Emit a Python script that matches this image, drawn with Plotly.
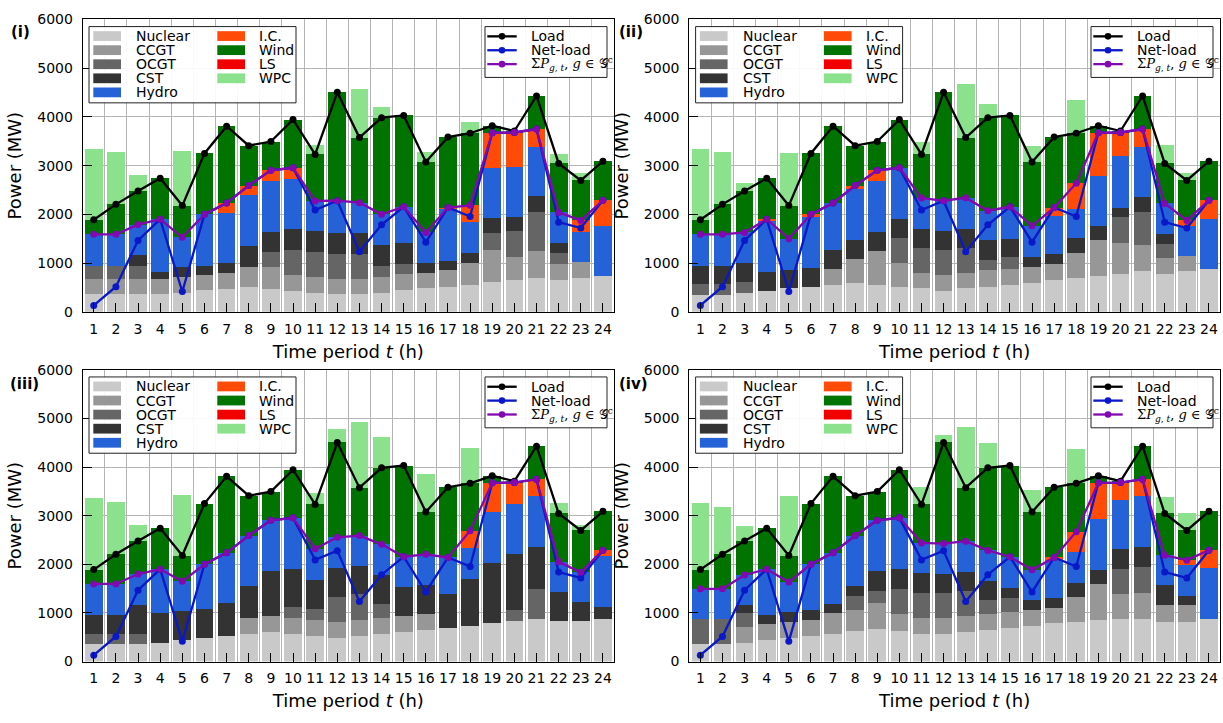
import plotly.graph_objects as go

FONT = "DejaVu Sans"
W, H = 1223, 723

hours = list(range(1, 25))
x_tick_labels = [str(h) for h in hours]
y_tick_values = [0, 1000, 2000, 3000, 4000, 5000, 6000]

# System demand and demand net of available wind (MW), identical in all cases
load = [1890, 2205, 2480, 2740, 2180, 3250, 3810, 3410, 3495, 3945, 3230, 4505,
        3575, 3985, 4030, 3075, 3585, 3665, 3820, 3710, 4430, 3045, 2695, 3090]
net_load = [130, 515, 1465, 1900, 415, 2000, 2235, 2590, 2905, 2955, 2090, 2280,
            1235, 1785, 2155, 1430, 2140, 1955, 3675, 3680, 3750, 1840, 1720, 2290]
load_shed = [0] * 24

# ---- case (i) ----
nuclear_i = [360, 360, 360, 360, 380, 440, 470, 515, 470, 435, 380, 360,
             360, 395, 440, 480, 515, 560, 615, 650, 700, 650, 695, 730]
ccgt_i = [320, 320, 320, 320, 340, 310, 330, 415, 460, 315, 330, 320,
          320, 320, 330, 320, 335, 440, 650, 465, 550, 335, 320, 0]
ocgt_i = [270, 270, 270, 0, 0, 0, 0, 0, 290, 520, 510, 505,
          505, 235, 215, 0, 0, 0, 355, 535, 805, 220, 0, 0]
cst_i = [0, 0, 210, 140, 200, 200, 200, 420, 420, 430, 430, 435,
         435, 415, 435, 200, 200, 205, 300, 305, 315, 200, 0, 0]
hydro_i = [640, 640, 630, 1080, 610, 1050, 1030, 1040, 1040, 1020, 625, 660,
           620, 635, 735, 630, 1055, 630, 1035, 1015, 1020, 635, 625, 1035]
ic_i = [0, 0, 0, 0, 0, 0, 205, 200, 225, 235, 0, 0,
        0, 0, 0, 0, 35, 350, 720, 710, 360, 0, 235, 525]
wind_i = [300, 615, 690, 840, 650, 1250, 1575, 820, 590, 990, 955, 2225,
          1335, 1985, 1875, 1445, 1445, 1480, 145, 30, 680, 1005, 820, 800]
wpc_i = [1460, 1075, 325, 0, 1115, 0, 0, 0, 0, 0, 185, 0,
         1005, 215, 0, 200, 0, 230, 0, 0, 0, 200, 155, 0]
conv_i = [1590, 1590, 1790, 1900, 1530, 2000, 2235, 2590, 2905, 2955, 2275, 2280,
          2240, 2000, 2155, 1630, 2140, 2185, 3675, 3680, 3750, 2040, 1875, 2290]

# ---- case (ii) ----
nuclear_ii = [350, 350, 395, 435, 480, 515, 560, 600, 560, 515, 480, 435,
              480, 515, 560, 600, 650, 695, 735, 785, 830, 785, 830, 885]
ccgt_ii = [0, 0, 0, 0, 0, 0, 325, 485, 690, 485, 325, 330,
           325, 335, 325, 315, 335, 510, 730, 635, 535, 320, 320, 0]
ocgt_ii = [230, 230, 220, 0, 0, 0, 0, 0, 0, 520, 515, 505,
           515, 220, 230, 0, 0, 0, 0, 520, 690, 295, 0, 0]
cst_ii = [370, 370, 385, 380, 385, 390, 385, 385, 390, 380, 385, 380,
          385, 395, 385, 220, 200, 300, 300, 200, 300, 205, 0, 0]
hydro_ii = [640, 640, 630, 1060, 635, 1050, 965, 1050, 1035, 1055, 630, 630,
            635, 610, 655, 630, 780, 615, 1025, 1050, 1035, 620, 615, 1015]
ic_ii = [0, 0, 0, 25, 0, 45, 0, 70, 230, 0, 0, 0,
         0, 0, 0, 0, 175, 520, 885, 490, 360, 0, 110, 390]
wind_ii = [300, 615, 850, 840, 680, 1250, 1575, 820, 590, 990, 895, 2225,
           1235, 1910, 1875, 1310, 1445, 1025, 145, 30, 680, 820, 820, 800]
wpc_ii = [1460, 1075, 165, 0, 1085, 0, 0, 0, 0, 0, 245, 0,
          1105, 290, 0, 335, 0, 685, 0, 0, 0, 385, 155, 0]
conv_ii = [1590, 1590, 1630, 1900, 1500, 2000, 2235, 2590, 2905, 2955, 2335, 2280,
           2340, 2075, 2155, 1765, 2140, 2640, 3675, 3680, 3750, 2225, 1875, 2290]

# ---- case (iii) ----
nuclear_iii = [350, 350, 350, 390, 435, 485, 525, 570, 605, 570, 525, 485,
               520, 560, 605, 650, 695, 740, 785, 825, 875, 825, 825, 875]
ccgt_iii = [0, 0, 0, 0, 0, 0, 0, 320, 325, 325, 330, 320,
            340, 335, 325, 325, 0, 0, 0, 0, 0, 0, 0, 0]
ocgt_iii = [220, 220, 220, 0, 0, 0, 0, 0, 0, 225, 220, 525,
            520, 280, 0, 0, 0, 0, 0, 230, 620, 0, 0, 0]
cst_iii = [390, 390, 590, 600, 595, 590, 670, 655, 935, 785, 595, 600,
           590, 605, 595, 590, 685, 960, 1245, 1150, 870, 600, 400, 255]
hydro_iii = [635, 635, 640, 910, 620, 925, 1040, 1045, 1040, 1050, 650, 625,
             620, 630, 630, 640, 760, 635, 1050, 1035, 1045, 625, 610, 1040]
ic_iii = [0, 0, 0, 0, 0, 0, 0, 0, 0, 0, 0, 0,
          0, 0, 0, 0, 0, 355, 595, 440, 340, 0, 0, 120]
wind_iii = [295, 610, 680, 840, 530, 1250, 1575, 820, 590, 990, 910, 1950,
            985, 1575, 1875, 870, 1445, 975, 145, 30, 680, 995, 860, 800]
wpc_iii = [1465, 1080, 335, 0, 1235, 0, 0, 0, 0, 0, 230, 275,
           1355, 625, 0, 775, 0, 735, 0, 0, 0, 210, 115, 0]
conv_iii = [1595, 1595, 1800, 1900, 1650, 2000, 2235, 2590, 2905, 2955, 2320, 2555,
            2590, 2410, 2155, 2205, 2140, 2690, 3675, 3680, 3750, 2050, 1835, 2290]

# ---- case (iv) ----
nuclear_iv = [350, 350, 390, 435, 485, 525, 570, 620, 660, 620, 570, 570,
              605, 650, 695, 740, 785, 820, 860, 875, 875, 820, 820, 875]
ccgt_iv = [0, 0, 330, 340, 320, 335, 420, 435, 550, 355, 325, 325,
           325, 325, 315, 325, 325, 510, 735, 505, 535, 335, 335, 0]
ocgt_iv = [525, 525, 270, 0, 0, 0, 0, 290, 235, 520, 515, 515,
           515, 285, 295, 0, 0, 0, 0, 515, 540, 0, 0, 0]
cst_iv = [0, 0, 165, 185, 205, 195, 200, 215, 420, 410, 405, 390,
          390, 390, 210, 200, 200, 295, 290, 410, 415, 410, 200, 0]
hydro_iv = [620, 620, 625, 940, 625, 945, 1045, 1030, 1040, 1050, 625, 625,
            640, 635, 640, 620, 795, 630, 1040, 1010, 1045, 620, 630, 1040]
ic_iv = [0, 0, 0, 0, 0, 0, 0, 0, 0, 0, 0, 0,
         0, 0, 0, 0, 35, 415, 750, 365, 340, 0, 100, 375]
wind_iv = [395, 710, 700, 840, 545, 1250, 1575, 820, 590, 990, 790, 2080,
           1100, 1700, 1875, 1190, 1445, 995, 145, 30, 680, 860, 610, 800]
wpc_iv = [1365, 980, 315, 0, 1220, 0, 0, 0, 0, 0, 350, 145,
          1240, 500, 0, 455, 0, 715, 0, 0, 0, 345, 365, 0]
conv_iv = [1495, 1495, 1780, 1900, 1635, 2000, 2235, 2590, 2905, 2955, 2440, 2425,
           2475, 2285, 2155, 1885, 2140, 2670, 3675, 3680, 3750, 2185, 2085, 2290]

# Stack order (bottom to top) and colours
source_names = ["Nuclear", "CCGT", "OCGT", "CST", "Hydro", "I.C.", "Wind", "LS", "WPC"]
source_colors = ["#c9c9c9", "#979797", "#656565", "#333333", "#2562d8",
                 "#ff4a08", "#007300", "#f20000", "#8ce28c"]
line_names = ["Load", "Net-load",
              "Σ<i>P</i><sub><i>g</i>, <i>t</i></sub>, <i>g</i> ∈ 𝒢<sup>c</sup>"]
line_colors = ["#000000", "#0a18c8", "#8208b0"]

cases = [
    ("(i)", [nuclear_i, ccgt_i, ocgt_i, cst_i, hydro_i, ic_i, wind_i, load_shed, wpc_i], conv_i),
    ("(ii)", [nuclear_ii, ccgt_ii, ocgt_ii, cst_ii, hydro_ii, ic_ii, wind_ii, load_shed, wpc_ii], conv_ii),
    ("(iii)", [nuclear_iii, ccgt_iii, ocgt_iii, cst_iii, hydro_iii, ic_iii, wind_iii, load_shed, wpc_iii], conv_iii),
    ("(iv)", [nuclear_iv, ccgt_iv, ocgt_iv, cst_iv, hydro_iv, ic_iv, wind_iv, load_shed, wpc_iv], conv_iv),
]

# Panel frames in pixels: left, right, top, bottom
frames = [(82.7, 614.0, 11.7, 310.7), (689.3, 1220.0, 11.7, 310.7),
          (82.7, 614.0, 370.0, 668.3), (689.3, 1220.0, 370.0, 668.3)]
label_pos = [(9, 25), (617, 25), (8, 384), (617, 384)]

fig = go.Figure()
layout = dict(
    width=W, height=H, margin=dict(l=0, r=0, t=0, b=0),
    paper_bgcolor="white", plot_bgcolor="white",
    barmode="stack", showlegend=False,
    font=dict(family=FONT, size=14, color="black"),
)
shapes, annotations = [], []

for k, (label, stacks, conv) in enumerate(cases):
    xa = "x" if k == 0 else f"x{k + 1}"
    ya = "y" if k == 0 else f"y{k + 1}"
    left, right, top, bottom = frames[k]
    pw, ph = right - left, bottom - top

    for name, color, vals in zip(source_names, source_colors, stacks):
        fig.add_trace(go.Bar(x=hours, y=vals, name=name, marker_color=color,
                             marker_line_width=0, width=0.8, xaxis=xa, yaxis=ya))
    for name, color, vals in zip(line_names, line_colors, [load, net_load, conv]):
        fig.add_trace(go.Scatter(x=hours, y=vals, name=name, mode="lines+markers",
                                 line=dict(color=color, width=2.3),
                                 marker=dict(color=color, size=7),
                                 xaxis=xa, yaxis=ya))

    xkey = "xaxis" if k == 0 else f"xaxis{k + 1}"
    ykey = "yaxis" if k == 0 else f"yaxis{k + 1}"
    layout[xkey] = dict(
        domain=[left / W, right / W], anchor=ya, range=[0.5, 24.5],
        tickmode="array", tickvals=hours, ticktext=x_tick_labels,
        ticks="inside", ticklen=9, tickwidth=1, tickcolor="black",
        ticklabelstandoff=4,
        showline=True, linecolor="black", linewidth=1, mirror=True,
        showgrid=False, zeroline=False, layer="above traces",
        minor=dict(tickmode="array", tickvals=[h + 0.5 for h in hours[:-1]],
                   showgrid=True, gridcolor="#b4b4b4", gridwidth=1, ticks=""),
        tickfont=dict(family=FONT, size=14, color="black"),
        title=dict(text="Time period <i>t</i> (h)", standoff=9,
                   font=dict(family=FONT, size=18, color="black")),
    )
    layout[ykey] = dict(
        domain=[1 - bottom / H, 1 - top / H], anchor=xa, range=[0, 6000],
        tickmode="array", tickvals=y_tick_values,
        ticks="inside", ticklen=9, tickwidth=1, tickcolor="black",
        ticklabelstandoff=6,
        showline=True, linecolor="black", linewidth=1, mirror=True,
        showgrid=True, gridcolor="#b4b4b4", gridwidth=1, zeroline=False,
        layer="above traces",
        tickfont=dict(family=FONT, size=14, color="black"),
        title=dict(text="Power (MW)", standoff=10,
                   font=dict(family=FONT, size=18, color="black")),
    )

    xd, yd = f"{xa} domain", f"{ya} domain"

    def fx(px):
        return px / pw

    def fy(px):
        return 1 - px / ph

    # Generation-mix key (two columns)
    shapes.append(dict(type="rect", xref=xd, yref=yd, x0=fx(6.3), x1=fx(213.3),
                       y0=fy(85.3), y1=fy(7.3), line=dict(color="#222222", width=1),
                       fillcolor="rgba(255,255,255,0.92)", layer="above"))
    for i, (name, color) in enumerate(zip(source_names, source_colors)):
        col, row = (0, i) if i < 5 else (1, i - 5)
        sx = 10.6 if col == 0 else 134.6
        tx = 51.3 if col == 0 else 174.6
        cy = 17.0 + 14.4 * row
        shapes.append(dict(type="rect", xref=xd, yref=yd, x0=fx(sx), x1=fx(sx + 27.7),
                           y0=fy(cy + 5), y1=fy(cy - 5), line=dict(width=0),
                           fillcolor=color, layer="above"))
        annotations.append(dict(xref=xd, yref=yd, x=fx(tx), y=fy(cy), text=name,
                                showarrow=False, xanchor="left", yanchor="middle",
                                font=dict(family=FONT, size=14, color="black")))

    # Line key (top right)
    shapes.append(dict(type="rect", xref=xd, yref=yd, x0=fx(pw - 129), x1=fx(pw - 7),
                       y0=fy(59.3), y1=fy(7.3), line=dict(color="#222222", width=1),
                       fillcolor="rgba(255,255,255,0.92)", layer="above"))
    for i, (name, color) in enumerate(zip(line_names, line_colors)):
        cy = 17.3 + 14.2 * i
        shapes.append(dict(type="line", xref=xd, yref=yd, x0=fx(pw - 126.7), x1=fx(pw - 97.3),
                           y0=fy(cy), y1=fy(cy), line=dict(color=color, width=2.3),
                           layer="above"))
        shapes.append(dict(type="circle", xref=xd, yref=yd, xsizemode="pixel",
                           ysizemode="pixel", xanchor=fx(pw - 112), yanchor=fy(cy),
                           x0=-3.3, x1=3.3, y0=-3.3, y1=3.3, line=dict(width=0),
                           fillcolor=color, layer="above"))
        is_math = i == 2
        annotations.append(dict(xref=xd, yref=yd, x=fx(pw - 84.7), y=fy(cy), text=name,
                                showarrow=False, xanchor="left", yanchor="middle",
                                font=dict(family="DejaVu Serif" if is_math else FONT,
                                          size=13 if is_math else 14, color="black")))

    # Case label
    lx, ly = label_pos[k]
    annotations.append(dict(xref="paper", yref="paper", x=lx / W, y=1 - ly / H,
                            text=f"<b>{label}</b>", showarrow=False,
                            xanchor="left", yanchor="middle",
                            font=dict(family=FONT, size=15, color="black")))

layout["shapes"] = shapes
layout["annotations"] = annotations
fig.update_layout(**layout)

fig.write_html("out.html", config={"displayModeBar": False})
